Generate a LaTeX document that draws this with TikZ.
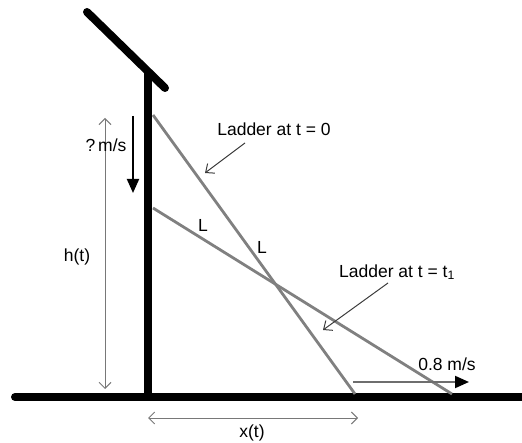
\documentclass[tikz,border=0pt]{standalone}
\usepackage{fontspec}
\setmainfont{Liberation Sans}
\usetikzlibrary{arrows.meta}
\begin{document}
\begin{tikzpicture}[x=1pt,y=-1pt,
  thick structure/.style={line width=8pt,line cap=round},
  ladder/.style={line width=2.8pt,draw={rgb,255:red,128;green,128;blue,128}},
  dim/.style={line width=1pt,draw={rgb,255:red,120;green,120;blue,120},{Straight Barb[length=6pt,width=12pt]}-{Straight Barb[length=6pt,width=12pt]}},
  pointer/.style={line width=1pt,draw={rgb,255:red,60;green,60;blue,60},-{Straight Barb[length=7pt,width=12pt]}},
  velocity/.style={line width=2pt,-{Triangle[length=14pt,width=12pt]}},
  lbl/.style={font=\fontsize{17.5}{20}\selectfont,inner sep=0pt,text=black}]
\useasboundingbox (0,0) rectangle (522,443);
% structure
\coordinate (roofA) at (87,12);
\coordinate (roofB) at (165,88);
\coordinate (wallTop) at (148,73);
\coordinate (wallBot) at (148,397);
\coordinate (groundL) at (15,397);
\coordinate (groundR) at (522,397);
\draw[thick structure] (roofA) -- (roofB);
\draw[line width=8pt] (wallTop) -- (wallBot);
\draw[thick structure] (groundL) -- (groundR);
% ladders
\coordinate (top0) at (153,115);
\coordinate (bot0) at (355,394);
\coordinate (top1) at (153,208);
\coordinate (bot1) at (452,394);
\draw[ladder] (top0) -- (bot0);
\draw[ladder] (top1) -- (bot1);
% h(t)
\coordinate (hTop) at (105,118);
\coordinate (hBot) at (105,389);
\draw[dim] (hTop) -- (hBot);
\node[lbl] (hlab) at (77,257) {h(t)};
% x(t)
\coordinate (xL) at (148,418);
\coordinate (xR) at (358,418);
\draw[dim] (xL) -- (xR);
\node[lbl] (xlab) at (252,433) {x(t)};
% ? m/s
\node[lbl] (qlab) at (106,145) {?\,m/s};
\coordinate (vTop) at (133,116);
\coordinate (vBot) at (133,193);
\draw[velocity] (vTop) -- (vBot);
% 0.8 m/s
\node[lbl] (vlab) at (447,364) {0.8 m/s};
\coordinate (hvL) at (353,382);
\coordinate (hvR) at (469,382);
\draw[velocity,draw={rgb,255:red,110;green,110;blue,110},-{Triangle[length=14pt,width=12pt,fill=black,color=black]}] (hvL) -- (hvR);
% labels
\node[lbl] (lab0) at (274,129) {Ladder at t = 0};
\coordinate (p0s) at (245,143);
\coordinate (p0e) at (205,173);
\draw[pointer] (p0s) -- (p0e);
\node[lbl] (lab1) at (397,272) {Ladder at t = t\textsubscript{1}};
\coordinate (p1s) at (388,283);
\coordinate (p1e) at (323,330);
\draw[pointer] (p1s) -- (p1e);
\node[lbl] (L0) at (203,225) {L};
\node[lbl] (L1) at (262,247) {L};
\end{tikzpicture}
\end{document}
